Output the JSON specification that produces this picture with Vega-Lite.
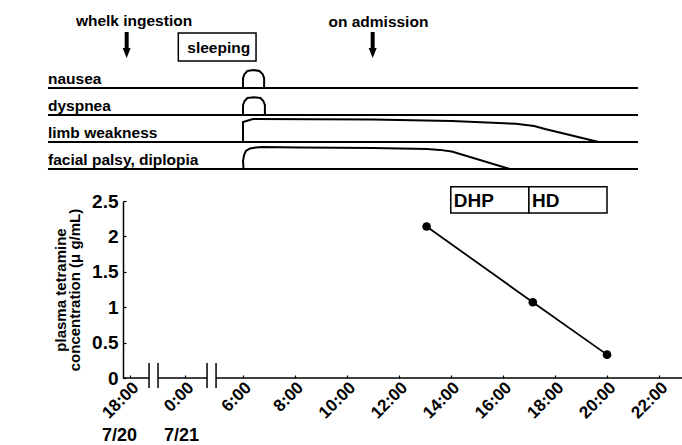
{
  "$schema": "https://vega.github.io/schema/vega-lite/v6.json",
  "width": 559,
  "height": 177,
  "autosize": {"type": "none"},
  "padding": {"left": 123, "top": 201, "right": 0, "bottom": 67},
  "background": "white",
  "config": {
    "view": {"stroke": null},
    "font": "Liberation Sans",
    "text": {"font": "Liberation Sans", "fontWeight": "bold", "color": "black"}
  },
  "datasets": {
    "conc": [
      {"t": 13.07, "v": 2.14},
      {"t": 17.15, "v": 1.07},
      {"t": 20.0, "v": 0.33}
    ],
    "therapy": [
      {"t": 14, "t2": 17, "v": 2.70, "v2": 2.33, "label": "DHP"},
      {"t": 17, "t2": 20, "v": 2.70, "v2": 2.33, "label": "HD"}
    ],
    "sleep": [
      {"t": -0.73, "t2": 6.52, "v": 4.873, "v2": 4.477, "tl": 3.52, "vl": 4.59, "label": "sleeping"}
    ],
    "arrows": [
      {"t": -6.36, "v": 4.887, "v2": 4.64, "head": 4.59, "tl": -5.56, "vl": 4.972, "label": "whelk ingestion"},
      {"t": 11.0, "v": 4.887, "v2": 4.64, "head": 4.59, "tl": 11.22, "vl": 4.958, "label": "on admission"}
    ],
    "symptoms": [
      {"t": -14.94, "t2": 21.19, "v": 4.096, "label": "nausea"},
      {"t": -14.94, "t2": 21.19, "v": 3.715, "label": "dyspnea"},
      {"t": -14.94, "t2": 21.19, "v": 3.333, "label": "limb weakness"},
      {"t": -14.94, "t2": 21.19, "v": 2.952, "label": "facial palsy, diplopia"}
    ],
    "curves": [
      {"s": "nausea", "o": 1, "t": 6.02, "v": 4.096},
      {"s": "nausea", "o": 2, "t": 6.02, "v": 4.237},
      {"s": "nausea", "o": 3, "t": 6.08, "v": 4.294},
      {"s": "nausea", "o": 4, "t": 6.19, "v": 4.336},
      {"s": "nausea", "o": 5, "t": 6.42, "v": 4.35},
      {"s": "nausea", "o": 6, "t": 6.65, "v": 4.336},
      {"s": "nausea", "o": 7, "t": 6.77, "v": 4.294},
      {"s": "nausea", "o": 8, "t": 6.83, "v": 4.237},
      {"s": "nausea", "o": 9, "t": 6.83, "v": 4.096},
      {"s": "dyspnea", "o": 1, "t": 6.02, "v": 3.715},
      {"s": "dyspnea", "o": 2, "t": 6.02, "v": 3.856},
      {"s": "dyspnea", "o": 3, "t": 6.08, "v": 3.913},
      {"s": "dyspnea", "o": 4, "t": 6.19, "v": 3.955},
      {"s": "dyspnea", "o": 5, "t": 6.44, "v": 3.965},
      {"s": "dyspnea", "o": 6, "t": 6.69, "v": 3.955},
      {"s": "dyspnea", "o": 7, "t": 6.8, "v": 3.913},
      {"s": "dyspnea", "o": 8, "t": 6.86, "v": 3.856},
      {"s": "dyspnea", "o": 9, "t": 6.86, "v": 3.715},
      {"s": "limb", "o": 1, "t": 6.02, "v": 3.333},
      {"s": "limb", "o": 2, "t": 6.02, "v": 3.615},
      {"s": "limb", "o": 3, "t": 6.4, "v": 3.658},
      {"s": "limb", "o": 4, "t": 11.0, "v": 3.651},
      {"s": "limb", "o": 5, "t": 14.04, "v": 3.63},
      {"s": "limb", "o": 6, "t": 16.5, "v": 3.59},
      {"s": "limb", "o": 7, "t": 17.2, "v": 3.56},
      {"s": "limb", "o": 8, "t": 17.62, "v": 3.517},
      {"s": "limb", "o": 9, "t": 19.68, "v": 3.333},
      {"s": "facial", "o": 1, "t": 6.04, "v": 2.952},
      {"s": "facial", "o": 2, "t": 6.02, "v": 3.065},
      {"s": "facial", "o": 3, "t": 6.06, "v": 3.15},
      {"s": "facial", "o": 4, "t": 6.13, "v": 3.206},
      {"s": "facial", "o": 5, "t": 6.29, "v": 3.242},
      {"s": "facial", "o": 6, "t": 6.52, "v": 3.256},
      {"s": "facial", "o": 7, "t": 6.75, "v": 3.263},
      {"s": "facial", "o": 8, "t": 8.21, "v": 3.256},
      {"s": "facial", "o": 9, "t": 11.01, "v": 3.249},
      {"s": "facial", "o": 10, "t": 13.09, "v": 3.234},
      {"s": "facial", "o": 11, "t": 13.58, "v": 3.222},
      {"s": "facial", "o": 12, "t": 14.04, "v": 3.2},
      {"s": "facial", "o": 13, "t": 16.27, "v": 2.952}
    ],
    "axisline": [
      {"t": -6.76, "t2": -3.92, "v": 0},
      {"t": -2.94, "t2": 2.3, "v": 0},
      {"t": 3.24, "t2": 22.88, "v": 0}
    ],
    "breaks": [
      {"t": -3.92, "v": 0.212, "v2": -0.141},
      {"t": -2.94, "v": 0.212, "v2": -0.141},
      {"t": 2.3, "v": 0.212, "v2": -0.141},
      {"t": 3.24, "v": 0.212, "v2": -0.141}
    ],
    "dates": [
      {"t": -7.14, "v": -0.826, "label": "7/20"},
      {"t": -0.38, "v": -0.826, "label": "7/21"}
    ]
  },
  "encoding": {
    "x": {
      "field": "t",
      "type": "quantitative",
      "scale": {"domain": [-6.76, 0, 6, 22.88], "range": [0, 62, 119.5, 559], "zero": false, "nice": false, "clamp": false},
      "axis": {
        "title": null,
        "values": [-6, 0, 6, 8, 10, 12, 14, 16, 18, 20, 22],
        "labelExpr": "datum.value < 0 ? (datum.value + 24) + ':00' : datum.value + ':00'",
        "labelAngle": -45,
        "labelAlign": "right",
        "labelBaseline": "top",
        "labelFont": "Liberation Sans",
        "labelFontWeight": "bold",
        "labelFontSize": 17,
        "labelColor": "black",
        "labelOverlap": false,
        "labelFlush": false,
        "labelBound": false,
        "labelPadding": 4,
        "domain": false,
        "grid": false,
        "ticks": true,
        "tickSize": -3,
        "tickColor": "black",
        "tickWidth": 1.2
      }
    },
    "y": {
      "field": "v",
      "type": "quantitative",
      "scale": {"domain": [0, 2.5], "zero": false, "nice": false, "clamp": false},
      "axis": {
        "title": ["plasma tetramine", "concentration (μ g/mL)"],
        "titleFont": "Liberation Sans",
        "titleFontWeight": "bold",
        "titleFontSize": 15,
        "titleLineHeight": 14,
        "titleColor": "black",
        "titlePadding": 9,
        "values": [0, 0.5, 1, 1.5, 2, 2.5],
        "format": "~g",
        "labelFont": "Liberation Sans",
        "labelFontWeight": "bold",
        "labelFontSize": 19,
        "labelColor": "black",
        "labelPadding": 8,
        "labelOverlap": false,
        "labelFlush": false,
        "domain": true,
        "domainColor": "black",
        "domainWidth": 1.5,
        "grid": false,
        "tickSize": -3,
        "tickColor": "black",
        "tickWidth": 1.2
      }
    }
  },
  "layer": [
    {
      "data": {"name": "symptoms"},
      "mark": {"type": "rule", "color": "black", "strokeWidth": 2},
      "encoding": {"x2": {"field": "t2"}}
    },
    {
      "data": {"name": "curves"},
      "mark": {"type": "line", "color": "black", "strokeWidth": 2},
      "encoding": {"detail": {"field": "s"}, "order": {"field": "o", "type": "quantitative"}}
    },
    {
      "data": {"name": "symptoms"},
      "mark": {"type": "text", "align": "left", "baseline": "alphabetic", "dy": -4, "fontSize": 15.5},
      "encoding": {"text": {"field": "label"}}
    },
    {
      "data": {"name": "arrows"},
      "mark": {"type": "rule", "color": "black", "strokeWidth": 4},
      "encoding": {"y2": {"field": "v2"}}
    },
    {
      "data": {"name": "arrows"},
      "mark": {"type": "point", "shape": "M-0.8,-1L0.8,-1L0,1Z", "filled": true, "color": "black", "opacity": 1, "size": 100},
      "encoding": {"y": {"field": "head", "type": "quantitative"}}
    },
    {
      "data": {"name": "arrows"},
      "mark": {"type": "text", "align": "center", "baseline": "alphabetic", "fontSize": 15.5},
      "encoding": {"x": {"field": "tl", "type": "quantitative"}, "y": {"field": "vl", "type": "quantitative"}, "text": {"field": "label"}}
    },
    {
      "data": {"name": "sleep"},
      "mark": {"type": "rect", "fill": "white", "stroke": "black", "strokeWidth": 1.5},
      "encoding": {"x2": {"field": "t2"}, "y2": {"field": "v2"}}
    },
    {
      "data": {"name": "sleep"},
      "mark": {"type": "text", "align": "center", "baseline": "alphabetic", "fontSize": 15.5},
      "encoding": {"x": {"field": "tl", "type": "quantitative"}, "y": {"field": "vl", "type": "quantitative"}, "text": {"field": "label"}}
    },
    {
      "data": {"name": "therapy"},
      "mark": {"type": "rect", "fill": "white", "stroke": "black", "strokeWidth": 1.5},
      "encoding": {"x2": {"field": "t2"}, "y2": {"field": "v2"}}
    },
    {
      "data": {"name": "therapy"},
      "mark": {"type": "text", "align": "left", "baseline": "middle", "dx": 3, "dy": 1, "fontSize": 19},
      "encoding": {"y": {"datum": 2.515}, "text": {"field": "label"}}
    },
    {
      "data": {"name": "axisline"},
      "mark": {"type": "rule", "color": "black", "strokeWidth": 1.5},
      "encoding": {"x2": {"field": "t2"}}
    },
    {
      "data": {"name": "breaks"},
      "mark": {"type": "rule", "color": "black", "strokeWidth": 1.5},
      "encoding": {"y2": {"field": "v2"}}
    },
    {
      "data": {"name": "dates"},
      "mark": {"type": "text", "align": "center", "baseline": "middle", "fontSize": 18},
      "encoding": {"text": {"field": "label"}}
    },
    {
      "data": {"name": "conc"},
      "mark": {"type": "line", "color": "black", "strokeWidth": 1.8}
    },
    {
      "data": {"name": "conc"},
      "mark": {"type": "point", "filled": true, "color": "black", "opacity": 1, "size": 75}
    }
  ]
}
